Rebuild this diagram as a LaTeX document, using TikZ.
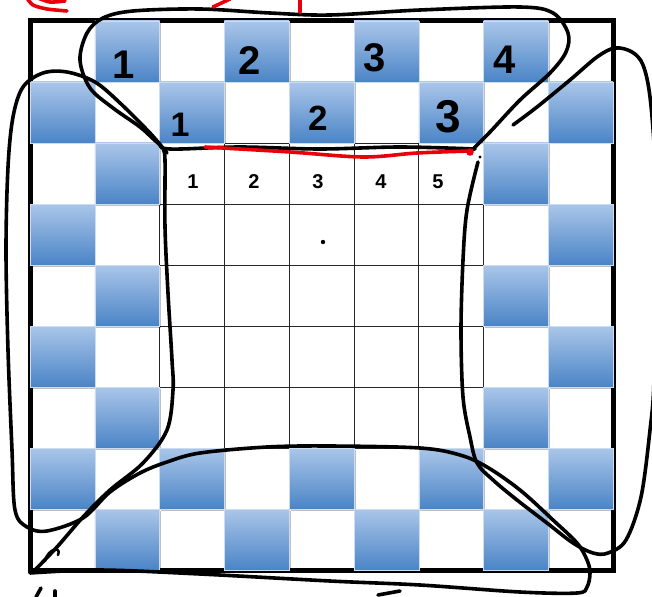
\documentclass[tikz,border=0pt]{standalone}
\usepackage{fontspec}
\setmainfont{Liberation Sans}
\usetikzlibrary{shadows}

\definecolor{celltop}{HTML}{AAC6E9}
\definecolor{cellbot}{HTML}{4A84C6}
\definecolor{inkred}{HTML}{E8000B}

\begin{document}
\begin{tikzpicture}[
    x=1pt, y=-1pt,
    frame/.style={draw, line width=5pt},
    gridline/.style={draw, line width=0.9pt, black!85},
    bluecell/.style={top color=celltop, bottom color=cellbot, draw=celltop!60!white, line width=0.4pt,
        drop shadow={shadow xshift=1.5pt, shadow yshift=-1.5pt, opacity=0.25, fill=black}},
    pen/.style={draw, line width=3.6pt, line cap=round, line join=round},
    redpen/.style={pen, draw=inkred},
    bignum/.style={font=\fontsize{40}{40}\selectfont\bfseries},
    smallnum/.style={font=\fontsize{20}{20}\selectfont\bfseries}
]
    \useasboundingbox (0,0) rectangle (652,596);
    \fill[white] (0,0) rectangle (652,596);

    % board frame and inner grid
    \path[frame] (30,21) rectangle (613,570);
    \foreach \k in {2,...,7} {
        \path[gridline] (30+\k*64.8,143) -- (30+\k*64.8,448);
        \path[gridline] (159.6,21+\k*61) -- (483.6,21+\k*61);
    }

    % blue squares of the two outer rings
    \foreach \r in {0,...,8}
        \foreach \c in {0,...,8} {
            \pgfmathtruncatemacro\odd{mod(\r+\c,2)}
            \pgfmathtruncatemacro\ring{or(or(\r<2,\r>6),or(\c<2,\c>6))}
            \ifnum\odd=1 \ifnum\ring=1
                \path[bluecell] (30+\c*64.8,21+\r*61) rectangle ++(64.8,61);
            \fi\fi
        }

    % handwritten numbers
    \node[bignum] (top1) at (124,65) {1};
    \node[bignum] (top2) at (250,61) {2};
    \node[bignum] (top3) at (375,58) {3};
    \node[bignum] (top4) at (505,60) {4};
    \node[bignum, font=\fontsize{34}{34}\selectfont\bfseries] (mid1) at (180,125) {1};
    \node[bignum, font=\fontsize{35}{35}\selectfont\bfseries] (mid2) at (318,118) {2};
    \node[bignum, font=\fontsize{46}{46}\selectfont\bfseries] (mid3) at (448,117) {3};
    \foreach \n/\x in {1/193,2/254,3/318,4/381,5/438}
        \node[smallnum] (low\n) at (\x,182) {\n};
    \fill (323,242) circle (2.2);
    \fill (480,157) circle (1.6);

    % loops
    \path[pen] plot[smooth, tension=0.55] coordinates {(475,149) (400,147) (320,149) (240,147) (170,149)
        (158,143) (140,127) (113,108) (90,88) (80,60) (87,33) (103,18) (133,11) (200,9) (270,13)
        (330,15) (420,10) (520,7) (553,13) (568,33) (566,52) (550,73) (520,100) (490,132) (472,150)};
    \path[pen] plot[smooth, tension=0.55] coordinates {(167,153) (150,133) (120,103) (95,82) (67,72)
        (43,73) (23,87) (13,117) (8,167) (6,250) (8,350) (12,450) (15,510) (27,527) (47,531) (83,518)
        (110,492) (140,473) (167,462) (200,453) (267,447) (330,446) (420,448) (460,455) (487,467)
        (520,490) (553,520) (577,543) (587,560) (590,573) (587,587) (577,593) (520,592) (420,585)
        (330,581) (200,574) (100,570) (30,573)};
    \path[pen] plot[smooth, tension=0.55] coordinates {(513,125) (537,107) (570,80) (597,57) (615,48)
        (632,52) (643,65) (650,97) (655,163) (656,250) (654,380) (650,430) (641,497) (626,540)
        (608,553) (593,553) (573,543) (547,523) (517,500) (493,480) (477,463) (470,437) (463,397)
        (461,330) (463,260) (467,210) (478,162)};
    \path[pen] plot[smooth, tension=0.55] coordinates {(163,150) (165,160) (165,227) (168,293)
        (172,360) (173,390) (167,430) (143,463) (110,490) (83,517) (57,547) (33,572)};
    \path[pen, line width=2.6pt] (45,561) .. controls (48,548) and (62,546) .. (58,555);

    % red marks
    \path[redpen] plot[smooth, tension=0.55] coordinates {(205,147) (290,152) (363,157) (417,153) (470,151)};
    \fill[inkred] (470,152) circle (3.8);
    \path[redpen] plot[smooth] coordinates {(27,-2) (33,5) (47,9) (67,11)};
    \path[redpen] plot[smooth] coordinates {(38,-2) (50,2) (65,1)};
    \path[redpen] (213,7) -- (230,-1);
    \path[redpen] (300,-1) -- (300,12);

    % cut-off strokes at the foot
    \path[pen] (41,588) -- (36,597);
    \path[pen] (55,591) -- (55,597);
    \path[pen] (378,595) -- (400,591);
\end{tikzpicture}
\end{document}
